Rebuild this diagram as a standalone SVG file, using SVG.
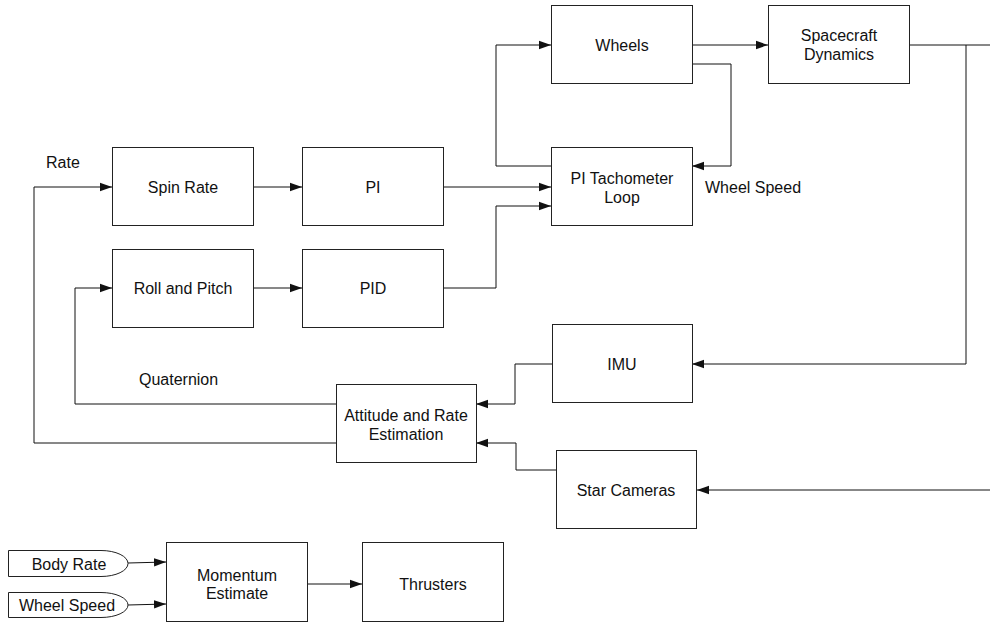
<svg xmlns="http://www.w3.org/2000/svg" width="990" height="626" viewBox="0 0 990 626">
  <style>
    .box { fill: #fff; stroke: #222; stroke-width: 1; }
    .lbl { font-family: "Liberation Sans", Arial, sans-serif; font-size: 16px; fill: #111; text-anchor: middle; dominant-baseline: central; }
    .free { font-family: "Liberation Sans", Arial, sans-serif; font-size: 16px; fill: #111; dominant-baseline: central; }
    .wire { fill: none; stroke: #111; stroke-width: 1; }
    .arrow { fill: none; stroke: #111; stroke-width: 1; marker-end: url(#head); }
  </style>
  <defs>
    <marker id="head" markerUnits="userSpaceOnUse" markerWidth="12" markerHeight="10" viewBox="0 0 12 10" refX="12" refY="5" orient="auto">
      <path d="M0,0.8 L12,5 L0,9.2 Z" fill="#111"/>
    </marker>
  </defs>
  <rect width="990" height="626" fill="#fff"/>

  <g id="connectors">
    <path class="arrow" d="M551,166 H496 V45 H551"/>
    <path class="arrow" d="M692,45 H768"/>
    <path class="arrow" d="M692,64 H731 V166 H692"/>
    <path class="wire" d="M909,45 H990"/>
    <path class="arrow" d="M966,45 V364 H692"/>
    <path class="arrow" d="M990,490 H697"/>
    <path class="arrow" d="M552,364 H515 V404 H476"/>
    <path class="arrow" d="M556,470 H516 V443 H476"/>
    <path class="arrow" d="M336,404 H75 V288 H112"/>
    <path class="arrow" d="M336,443 H34 V187 H112"/>
    <path class="arrow" d="M253,187 H302"/>
    <path class="arrow" d="M443,187 H551"/>
    <path class="arrow" d="M253,288 H302"/>
    <path class="arrow" d="M443,288 H496 V206 H551"/>
    <path class="arrow" d="M128,563 L166,562"/>
    <path class="arrow" d="M128,605 L166,604"/>
    <path class="arrow" d="M307,584 H362"/>
  </g>

  <g id="wheels">
    <rect class="box" x="551.5" y="5.5" width="141" height="78"/>
    <text class="lbl" x="622" y="45">Wheels</text>
  </g>
  <g id="spacecraft-dynamics">
    <rect class="box" x="768.5" y="5.5" width="141" height="78"/>
    <text class="lbl" x="839" y="35">Spacecraft</text>
    <text class="lbl" x="839" y="54">Dynamics</text>
  </g>
  <g id="pi-tachometer-loop">
    <rect class="box" x="551.5" y="147.5" width="141" height="78"/>
    <text class="lbl" x="622" y="178">PI Tachometer</text>
    <text class="lbl" x="622" y="197">Loop</text>
  </g>
  <g id="spin-rate">
    <rect class="box" x="112.5" y="147.5" width="141" height="78"/>
    <text class="lbl" x="183" y="187">Spin Rate</text>
  </g>
  <g id="pi">
    <rect class="box" x="302.5" y="147.5" width="141" height="78"/>
    <text class="lbl" x="373" y="187">PI</text>
  </g>
  <g id="roll-and-pitch">
    <rect class="box" x="112.5" y="249.5" width="141" height="78"/>
    <text class="lbl" x="183" y="288">Roll and Pitch</text>
  </g>
  <g id="pid">
    <rect class="box" x="302.5" y="249.5" width="141" height="78"/>
    <text class="lbl" x="373" y="288">PID</text>
  </g>
  <g id="imu">
    <rect class="box" x="552.5" y="324.5" width="140" height="78"/>
    <text class="lbl" x="622" y="364">IMU</text>
  </g>
  <g id="attitude-rate-estimation">
    <rect class="box" x="336.5" y="384.5" width="140" height="78"/>
    <text class="lbl" x="406" y="415">Attitude and Rate</text>
    <text class="lbl" x="406" y="434">Estimation</text>
  </g>
  <g id="star-cameras">
    <rect class="box" x="556.5" y="450.5" width="140" height="78"/>
    <text class="lbl" x="626" y="490">Star Cameras</text>
  </g>
  <g id="body-rate">
    <path class="box" d="M8.5,550.5 H101 A27,13 0 0 1 101,576.5 H8.5 Z"/>
    <text class="lbl" x="69" y="564">Body Rate</text>
  </g>
  <g id="wheel-speed-input">
    <path class="box" d="M8.5,592.5 H101 A27,12.5 0 0 1 101,617.5 H8.5 Z"/>
    <text class="lbl" x="67" y="605">Wheel Speed</text>
  </g>
  <g id="momentum-estimate">
    <rect class="box" x="166.5" y="542.5" width="141" height="79"/>
    <text class="lbl" x="237" y="575">Momentum</text>
    <text class="lbl" x="237" y="593">Estimate</text>
  </g>
  <g id="thrusters">
    <rect class="box" x="362.5" y="542.5" width="141" height="79"/>
    <text class="lbl" x="433" y="584">Thrusters</text>
  </g>

  <g id="labels">
    <text class="free" x="46" y="162">Rate</text>
    <text class="free" x="705" y="187">Wheel Speed</text>
    <text class="free" x="139" y="379">Quaternion</text>
  </g>
</svg>
